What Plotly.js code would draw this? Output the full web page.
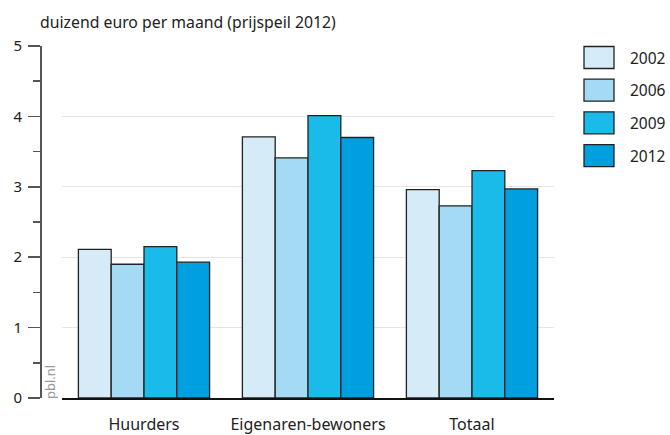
<!DOCTYPE html>
<html>
<head>
<meta charset="utf-8">
<script src="https://cdn.plot.ly/plotly-3.0.1.min.js"></script>
<style>html,body{margin:0;padding:0;background:#fff;}#chart{width:670px;height:435px;}</style>
</head>
<body>
<div id="chart"></div>
<script>
const categories = ['Huurders', 'Eigenaren-bewoners', 'Totaal'];
const years = ['2002', '2006', '2009', '2012'];
const v2002 = [2.11, 3.71, 2.96];
const v2006 = [1.90, 3.41, 2.73];
const v2009 = [2.15, 4.01, 3.23];
const v2012 = [1.93, 3.70, 2.97];
const seriesValues = [v2002, v2006, v2009, v2012];
const colors = ['#d5ecf8', '#a4daf4', '#1bbbe9', '#009fe0'];

const W = 670, H = 435;
const M = {l: 40, r: 116, t: 46, b: 37};
const pw = W - M.l - M.r, ph = H - M.t - M.b;
const px2x = p => (p - M.l) / pw;
const px2y = p => (H - M.b - p) / ph;

const FONT = 'Noto Sans, Open Sans, sans-serif';

const traces = years.map((yr, i) => ({
  type: 'bar',
  name: yr,
  x: categories,
  y: seriesValues[i],
  marker: {color: colors[i], line: {color: '#222', width: 1.3}},
  showlegend: false,
  hoverinfo: 'x+y+name'
}));

const shapes = [];
const annotations = [];
years.forEach((yr, i) => {
  const top = 46.5 + 32.7 * i;
  shapes.push({
    type: 'rect', xref: 'paper', yref: 'paper',
    x0: px2x(584), x1: px2x(614), y0: px2y(top + 22), y1: px2y(top),
    fillcolor: colors[i], line: {color: '#222', width: 1.3}
  });
  annotations.push({
    xref: 'paper', yref: 'paper', x: px2x(628), y: px2y(top + 11),
    xanchor: 'left', yanchor: 'middle', showarrow: false,
    text: yr, font: {family: FONT, size: 15.5, color: '#222'}
  });
});
annotations.push({
  xref: 'paper', yref: 'paper', x: px2x(50), y: px2y(382),
  xanchor: 'center', yanchor: 'middle', showarrow: false, textangle: -90,
  text: 'pbl.nl', font: {family: FONT, size: 13, color: '#9a9a9a'}
});

const layout = {
  width: W, height: H,
  margin: M,
  paper_bgcolor: '#fff', plot_bgcolor: '#fff',
  font: {family: FONT, size: 15, color: '#222'},
  barmode: 'group', bargap: 0.2, bargroupgap: 0,
  title: {
    text: 'duizend euro per maand (prijspeil 2012)',
    xref: 'paper', x: 0, xanchor: 'left',
    yref: 'container', y: 1 - 22 / H, yanchor: 'middle',
    font: {family: FONT, size: 15.8, color: '#222'}
  },
  xaxis: {
    domain: [px2x(62), 1],
    showline: true, linecolor: '#111', linewidth: 1.5,
    ticks: '', showgrid: false, zeroline: false,
    ticklabelstandoff: 11,
    tickfont: {family: FONT, size: 16, color: '#222'},
    fixedrange: true
  },
  yaxis: {
    range: [0, 5], anchor: 'free', position: 0,
    showline: true, linecolor: '#555', linewidth: 1.5,
    ticks: 'outside', ticklen: 12, tickwidth: 1.5, tickcolor: '#555',
    dtick: 1, tick0: 0,
    minor: {dtick: 0.5, ticks: 'outside', ticklen: 7, tickwidth: 1.5, tickcolor: '#555', showgrid: false},
    showgrid: true, gridcolor: '#e4e4e4', gridwidth: 1,
    zeroline: false,
    ticklabelstandoff: 3,
    tickfont: {family: FONT, size: 15, color: '#222'},
    fixedrange: true
  },
  shapes: shapes,
  annotations: annotations
};

Plotly.newPlot('chart', traces, layout, {displayModeBar: false, staticPlot: true});
</script>
</body>
</html>
